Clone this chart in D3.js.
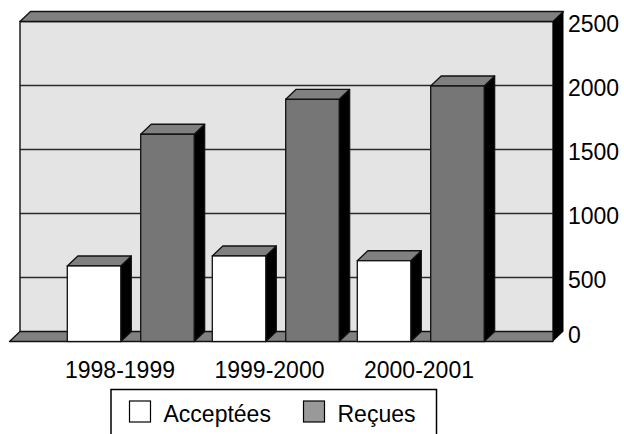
<!DOCTYPE html>
<html>
<head>
<meta charset="utf-8">
<script src="https://cdn.jsdelivr.net/npm/d3@7/dist/d3.min.js"></script>
<style>
  html, body { margin: 0; padding: 0; background: #fff; }
  svg { display: block; }
  text { font-family: "Liberation Sans", Arial, sans-serif; fill: #000; }
</style>
</head>
<body>
<svg id="chart" width="624" height="434"></svg>
<script>
// Dossiers par année universitaire
const categories = ["1998-1999", "1999-2000", "2000-2001"];
const seriesNames = ["Acceptées", "Reçues"];
const acceptees = [590, 668, 631];
const recues = [1619, 1892, 1996];
const valueTicks = [0, 500, 1000, 1500, 2000, 2500];

const seriesColors = { "Acceptées": "#ffffff", "Reçues": "#767676" };
const legendColors = { "Acceptées": "#ffffff", "Reçues": "#999999" };

const W = 624, H = 434;
const depthX = 10.5, depthY = -10;      // oblique offset toward the back
const outline = "#111";

const svg = d3.select("#chart");

// value scale (front plane)
const y = d3.scaleLinear().domain([0, 2500]).range([341.5, 21.5]);

// category and series positions
const x0 = d3.scaleBand().domain(categories).range([22.3, 457.3]);
const x1 = d3.scaleBand().domain(seriesNames).range([45, 171.9]).paddingInner(0.271);
const xLabel = d3.scalePoint().domain(categories).range([120, 419]);

const wallLeft = 20, wallRight = 553;
const wallTop = y(2500);
const floorFront = y(0);
const floorBack = floorFront + depthY;

// back wall face
svg.append("rect")
  .attr("x", wallLeft).attr("y", wallTop)
  .attr("width", wallRight - wallLeft).attr("height", floorBack - wallTop)
  .attr("fill", "#e4e4e4");

// gridlines
svg.append("g").selectAll("line")
  .data(valueTicks.filter(v => v > 0 && v < 2500))
  .join("line")
  .attr("x1", wallLeft).attr("x2", wallRight)
  .attr("y1", d => y(d)).attr("y2", d => y(d))
  .attr("stroke", "#2a2a2a").attr("stroke-width", 1.4);

// wall outline
svg.append("path")
  .attr("d", `M${wallLeft},${floorBack}V${wallTop}H${wallRight}V${floorBack}`)
  .attr("fill", "none").attr("stroke", outline).attr("stroke-width", 1.4);

// wall top slab
svg.append("path")
  .attr("d", `M${wallLeft},${wallTop}L${wallLeft + depthX},${wallTop + depthY}H${wallRight + depthX}L${wallRight},${wallTop}Z`)
  .attr("fill", "#808080").attr("stroke", outline).attr("stroke-width", 1.3)
  .attr("stroke-linejoin", "round");

// wall right side
svg.append("path")
  .attr("d", `M${wallRight},${wallTop}L${wallRight + depthX},${wallTop + depthY}V${floorBack}L${wallRight},${floorFront}Z`)
  .attr("fill", "#000");

// floor
svg.append("path")
  .attr("d", `M${wallLeft - depthX},${floorFront}L${wallLeft},${floorBack}H${wallRight}V${floorFront}Z`)
  .attr("fill", "#808080").attr("stroke", outline).attr("stroke-width", 1.3)
  .attr("stroke-linejoin", "round");

// bars
const barData = [];
categories.forEach((c, i) => {
  barData.push({ cat: c, series: "Acceptées", value: acceptees[i] });
  barData.push({ cat: c, series: "Reçues", value: recues[i] });
});

const bw = x1.bandwidth();
const bars = svg.append("g").selectAll("g")
  .data(barData)
  .join("g")
  .each(function (d) {
    const g = d3.select(this);
    const xl = x0(d.cat) + x1(d.series);
    const xr = xl + bw;
    const top = y(d.value);
    const base = y(0);
    // side face
    g.append("path")
      .attr("d", `M${xr},${top}L${xr + depthX},${top + depthY}V${base + depthY}L${xr},${base}Z`)
      .attr("fill", "#000").attr("stroke", outline).attr("stroke-width", 1.2)
      .attr("stroke-linejoin", "round");
    // top face
    g.append("path")
      .attr("d", `M${xl},${top}L${xl + depthX},${top + depthY}H${xr + depthX}L${xr},${top}Z`)
      .attr("fill", "#808080").attr("stroke", outline).attr("stroke-width", 1.3)
      .attr("stroke-linejoin", "round");
    // front face
    g.append("rect")
      .attr("x", xl).attr("y", top)
      .attr("width", bw).attr("height", base - top)
      .attr("fill", seriesColors[d.series])
      .attr("stroke", outline).attr("stroke-width", 1.3);
  });

// value axis labels
svg.append("g").selectAll("text")
  .data(valueTicks)
  .join("text")
  .attr("x", 568)
  .attr("y", d => Math.min(y(d) + 2, floorBack + 3.5))
  .attr("dominant-baseline", "central")
  .attr("font-size", 23)
  .text(d => d);

// category labels
svg.append("g").selectAll("text")
  .data(categories)
  .join("text")
  .attr("x", d => xLabel(d))
  .attr("y", 377.5)
  .attr("text-anchor", "middle")
  .attr("font-size", 23)
  .text(d => d);

// legend
const legend = svg.append("g");
legend.append("rect")
  .attr("x", 111).attr("y", 389.5)
  .attr("width", 325.5).attr("height", 60)
  .attr("fill", "#fff").attr("stroke", "#000").attr("stroke-width", 1.5);

const legendX = d3.scaleOrdinal().domain(seriesNames).range([129.5, 303.5]);
const items = legend.selectAll("g.item")
  .data(seriesNames)
  .join("g").attr("class", "item")
  .attr("transform", d => `translate(${legendX(d)},401)`);
items.append("rect")
  .attr("width", 21).attr("height", 21)
  .attr("fill", d => legendColors[d])
  .attr("stroke", "#000").attr("stroke-width", 1.2);
items.append("text")
  .attr("x", 34).attr("y", 20.5)
  .attr("font-size", 23)
  .text(d => d);
</script>
</body>
</html>
